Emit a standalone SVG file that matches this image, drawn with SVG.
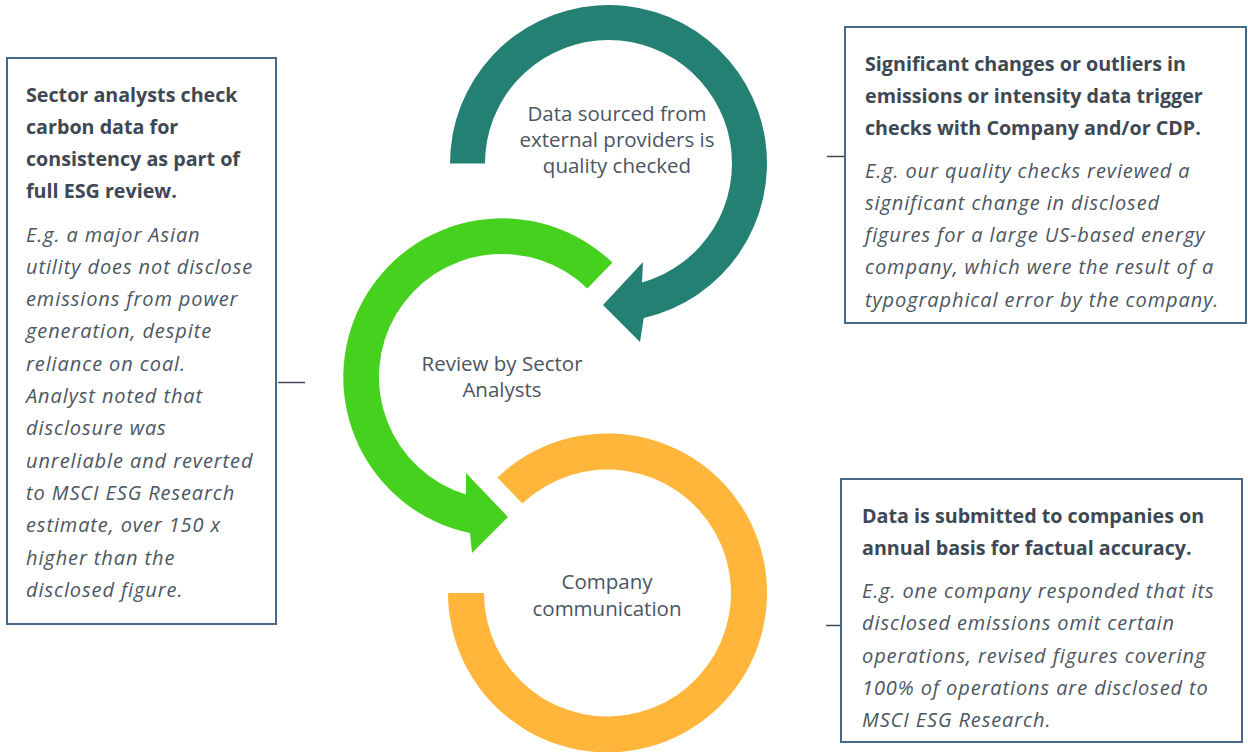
<svg xmlns="http://www.w3.org/2000/svg" width="1248" height="752" viewBox="0 0 1248 752">
  <style>
    .box { fill: #ffffff; stroke: #46698A; stroke-width: 2; }
    .lead { stroke: #3E4852; stroke-width: 1.5; fill: none; }
    .hd { font-family: "Open Sans", "DejaVu Sans", sans-serif; font-weight: bold; font-size: 19.7px; fill: #3D4853; }
    .ex { font-family: "Open Sans", "DejaVu Sans", sans-serif; font-style: italic; font-size: 20px; letter-spacing: 0.9px; fill: #4B5661; }
    .lbl { font-family: "Open Sans", "DejaVu Sans", sans-serif; font-size: 20.5px; fill: #4A5561; text-anchor: middle; }
  </style>
  <rect width="1248" height="752" fill="#ffffff"/>

  <!-- cycle of three circular arrows -->
  <g id="step-data-sourced">
    <path fill="#238073" d="M450,163.5 A158.5,158.5 0 1 1 643.8,318 L640,342 L603,305 L643,262 L642,282.4 A123.5,123.5 0 1 0 485,163.5 Z"/>
    <text class="lbl" x="617" y="121">Data sourced from</text>
    <text class="lbl" x="617" y="147">external providers is</text>
    <text class="lbl" x="617" y="173">quality checked</text>
  </g>

  <g id="step-sector-review">
    <path fill="#46D11F" d="M612.4,262.6 A159,159 0 1 0 470,533 L472,553 L508,517 L466,473 L466,494.6 A123,123 0 1 1 587.4,288.5 Z"/>
    <text class="lbl" x="502" y="371">Review by Sector</text>
    <text class="lbl" x="502" y="397">Analysts</text>
  </g>

  <g id="step-company-communication">
    <path fill="#FFB63B" d="M448,593 A159.5,159.5 0 1 0 497.4,477.5 L522.3,503.6 A123.5,123.5 0 1 1 484,593 Z"/>
    <text class="lbl" x="607" y="589">Company</text>
    <text class="lbl" x="607" y="616">communication</text>
  </g>

  <!-- leader lines from the callouts -->
  <g id="connectors">
    <line class="lead" x1="278" y1="382.5" x2="305" y2="382.5"/>
    <line class="lead" x1="827" y1="156.5" x2="845" y2="156.5"/>
    <line class="lead" x1="826" y1="625.5" x2="841" y2="625.5"/>
  </g>

  <g id="note-sector-analysts">
    <rect class="box" x="7" y="58" width="269" height="566"/>
    <text class="hd" x="26" y="102">Sector analysts check</text>
    <text class="hd" x="26" y="134">carbon data for</text>
    <text class="hd" x="26" y="166">consistency as part of</text>
    <text class="hd" x="26" y="198">full ESG review.</text>
    <text class="ex" x="26" y="242">E.g. a major Asian</text>
    <text class="ex" x="26" y="274">utility does not disclose</text>
    <text class="ex" x="26" y="306">emissions from power</text>
    <text class="ex" x="26" y="338">generation, despite</text>
    <text class="ex" x="26" y="371">reliance on coal.</text>
    <text class="ex" x="26" y="403">Analyst noted that</text>
    <text class="ex" x="26" y="435">disclosure was</text>
    <text class="ex" x="26" y="468">unreliable and reverted</text>
    <text class="ex" x="26" y="500">to MSCI ESG Research</text>
    <text class="ex" x="26" y="532">estimate, over 150 x</text>
    <text class="ex" x="26" y="565">higher than the</text>
    <text class="ex" x="26" y="597">disclosed figure.</text>
  </g>

  <g id="note-outliers">
    <rect class="box" x="845" y="27" width="401" height="296"/>
    <text class="hd" x="865" y="71">Significant changes or outliers in</text>
    <text class="hd" x="865" y="103">emissions or intensity data trigger</text>
    <text class="hd" x="865" y="135">checks with Company and/or CDP.</text>
    <text class="ex" x="865" y="178">E.g. our quality checks reviewed a</text>
    <text class="ex" x="865" y="210">significant change in disclosed</text>
    <text class="ex" x="865" y="242">figures for a large US-based energy</text>
    <text class="ex" x="865" y="274">company, which were the result of a</text>
    <text class="ex" x="865" y="307">typographical error by the company.</text>
  </g>

  <g id="note-annual-submission">
    <rect class="box" x="841" y="479" width="401" height="263"/>
    <text class="hd" x="862" y="523">Data is submitted to companies on</text>
    <text class="hd" x="862" y="555">annual basis for factual accuracy.</text>
    <text class="ex" x="862" y="598">E.g. one company responded that its</text>
    <text class="ex" x="862" y="630">disclosed emissions omit certain</text>
    <text class="ex" x="862" y="663">operations, revised figures covering</text>
    <text class="ex" x="862" y="695">100% of operations are disclosed to</text>
    <text class="ex" x="862" y="727">MSCI ESG Research.</text>
  </g>
</svg>
